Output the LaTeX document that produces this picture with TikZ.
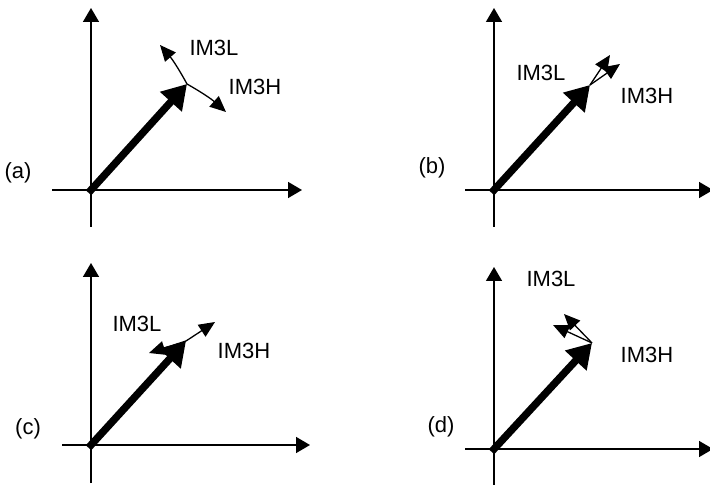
\documentclass[tikz,border=0pt]{standalone}
\usepackage{fontspec}
\setmainfont{Liberation Sans}
\usetikzlibrary{arrows.meta, positioning}
\tikzset{
  axis/.style={line width=0.75pt, -{Triangle[length=7pt,width=8pt]}}, % the x and y axes
  phasor/.style={line width=3.7pt, line cap=rect,
    -{Triangle[length=12pt,width=14pt]}}, % the big carrier vector
  im3/.style={line width=0.65pt, -{Triangle[length=8pt,width=7pt]}}, % small IM3 vectors
  lbl/.style={font=\fontsize{11}{13}\selectfont, inner sep=0pt},
}

\begin{document}
\begin{tikzpicture}[x=0.5pt, y=-0.5pt]
    \useasboundingbox (0,0) rectangle (710,485);

    % (a)
    \coordinate (orig_a) at (91,190);
    \coordinate (xend_a) at (302,190);
    \coordinate (xbeg_a) at (52,190);
    \coordinate (yend_a) at (91,8);
    \coordinate (ybeg_a) at (91,227);
    \coordinate (tip_a) at (187,84);
    \coordinate (low_a) at (160,45);
    \coordinate (high_a) at (226,112);
    \node[lbl] (name_a) at (18,173) {(a)};
    \node[lbl] (im3l_a) at (214,48) {IM3L};
    \node[lbl] (im3h_a) at (255,87) {IM3H};
    \draw[axis] (xbeg_a) -- (xend_a);
    \draw[axis] (ybeg_a) -- (yend_a);
    \draw[phasor] (orig_a) -- (tip_a);
    \draw[im3] (tip_a) to[bend right=6] (low_a);
    \draw[im3] (tip_a) to[bend left=6] (high_a);

    % (b)
    \coordinate (orig_b) at (494,190);
    \coordinate (xend_b) at (713,190);
    \coordinate (xbeg_b) at (465,190);
    \coordinate (yend_b) at (494,8);
    \coordinate (ybeg_b) at (494,227);
    \coordinate (tip_b) at (590,85);
    \coordinate (low_b) at (610,55);
    \coordinate (high_b) at (620,64);
    \node[lbl] (name_b) at (432,168) {(b)};
    \node[lbl] (im3l_b) at (541,73) {IM3L};
    \node[lbl] (im3h_b) at (647,96) {IM3H};
    \draw[axis] (xbeg_b) -- (xend_b);
    \draw[axis] (ybeg_b) -- (yend_b);
    \draw[phasor] (orig_b) -- (tip_b);
    \draw[im3] (tip_b) -- (low_b);
    \draw[im3] (tip_b) -- (high_b);

    % (c)
    \coordinate (orig_c) at (91,445);
    \coordinate (xend_c) at (310,445);
    \coordinate (xbeg_c) at (62,445);
    \coordinate (yend_c) at (91,263);
    \coordinate (ybeg_c) at (91,483);
    \coordinate (tip_c) at (186,341);
    \coordinate (low_c) at (149,353);
    \coordinate (high_c) at (215,322);
    \node[lbl] (name_c) at (28,429) {(c)};
    \node[lbl] (im3l_c) at (137,324) {IM3L};
    \node[lbl] (im3h_c) at (244,351) {IM3H};
    \draw[axis] (xbeg_c) -- (xend_c);
    \draw[axis] (ybeg_c) -- (yend_c);
    \draw[phasor] (orig_c) -- (tip_c);
    \draw[im3] (tip_c) -- (low_c);
    \draw[im3] (tip_c) -- (high_c);

    % (d)
    \coordinate (orig_d) at (494,449);
    \coordinate (xend_d) at (713,449);
    \coordinate (xbeg_d) at (465,449);
    \coordinate (yend_d) at (494,267);
    \coordinate (ybeg_d) at (494,485);
    \coordinate (tip_d) at (592,343);
    \coordinate (low_d) at (553,325);
    \coordinate (high_d) at (564,314);
    \node[lbl] (name_d) at (441,427) {(d)};
    \node[lbl] (im3l_d) at (551,279) {IM3L};
    \node[lbl] (im3h_d) at (647,355) {IM3H};
    \draw[axis] (xbeg_d) -- (xend_d);
    \draw[axis] (ybeg_d) -- (yend_d);
    \draw[phasor] (orig_d) -- (tip_d);
    \draw[im3] (tip_d) -- (low_d);
    \draw[im3] (tip_d) -- (high_d);
\end{tikzpicture}
\end{document}
